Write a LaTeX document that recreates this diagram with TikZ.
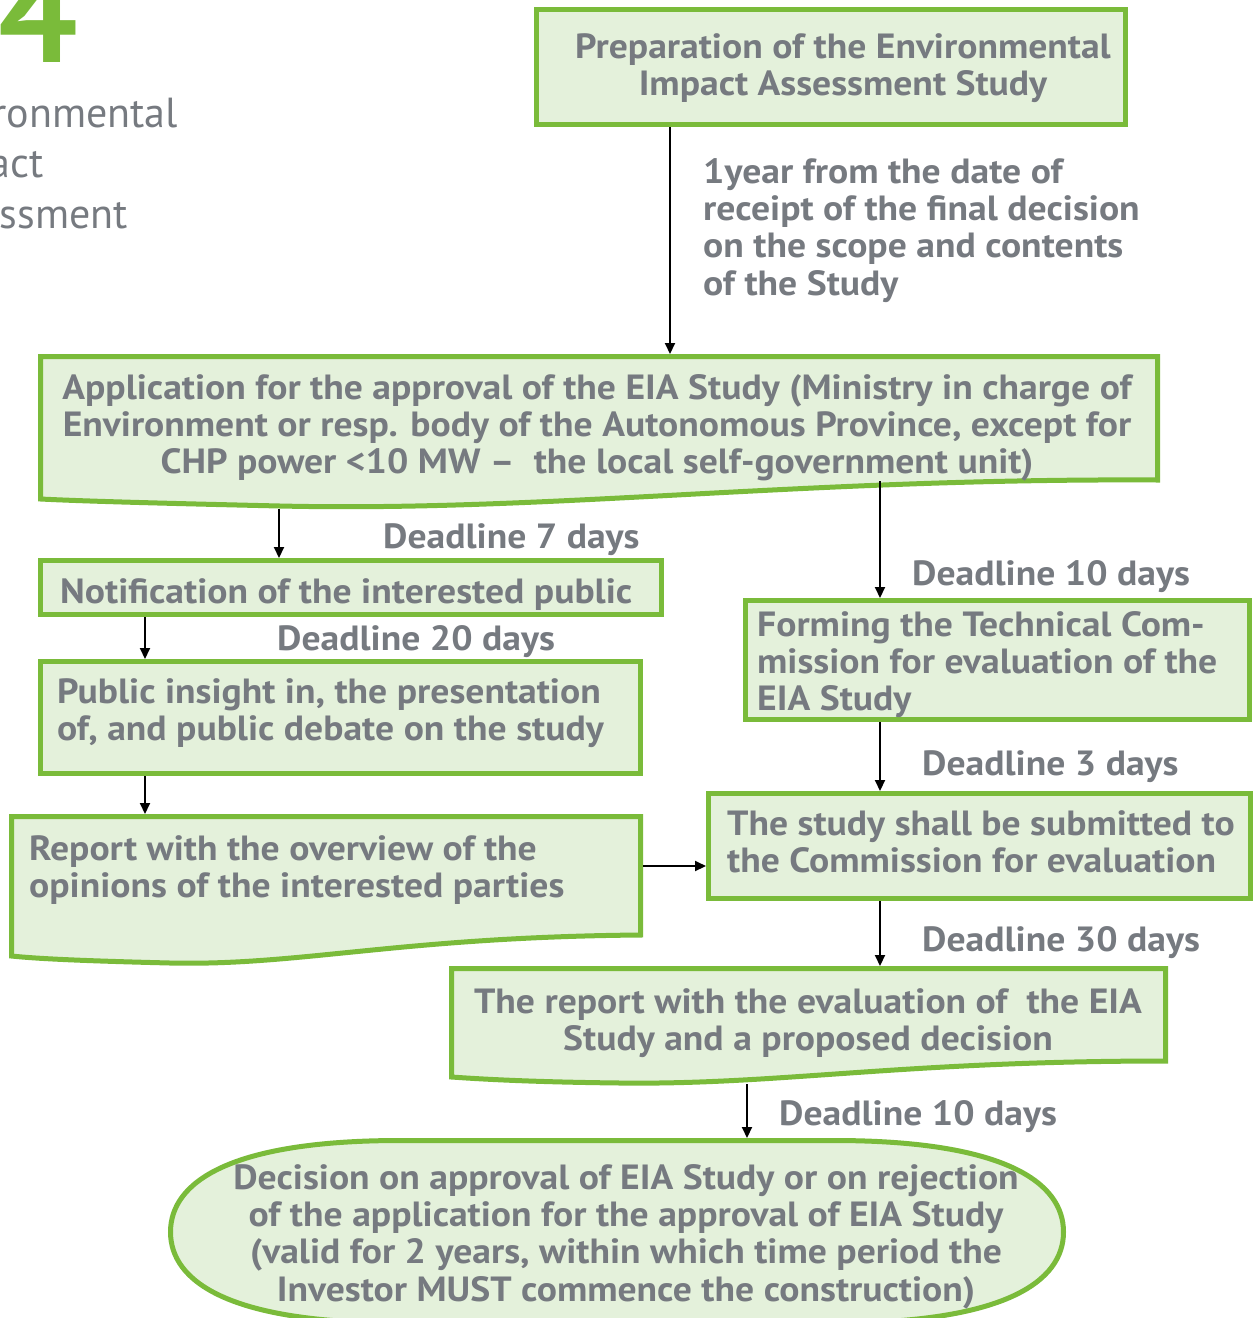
\documentclass[tikz,border=0pt]{standalone}
\usepackage{fontspec}
\setmainfont{PT Sans}
\newfontfamily\boxfam{PT Sans}[FakeStretch=1.075,Ligatures=TeX]
\usetikzlibrary{arrows.meta}
\definecolor{boxgreen}{RGB}{122,187,58}
\definecolor{boxfill}{RGB}{228,241,219}
\definecolor{txtgray}{RGB}{118,122,128}
\newcommand\boxfont{\boxfam\bfseries\fontsize{35}{37.3}\selectfont}
\newcommand\sidefont{\fontsize{42}{50}\selectfont}
\begin{document}
\begin{tikzpicture}[x=1pt,y=-1pt,
  box/.style={draw=boxgreen, fill=boxfill, line width=5pt, rectangle, inner sep=0, anchor=north west},
  doc/.style={draw=boxgreen, fill=boxfill, line width=5pt, line join=miter},
  area/.style={inner sep=0, outer sep=0, anchor=north west},
  txt/.style={inner sep=0, font=\boxfont, text=txtgray},
  side/.style={inner sep=0, font=\sidefont, text=txtgray, anchor=base east},
  arr/.style={line width=2pt, -{Triangle[length=11pt,width=10pt]}}]
\useasboundingbox (0,0) rectangle (1259,1318);
\clip (0,0) rectangle (1259,1318);

% chapter number and title
\node[inner sep=0, font=\bfseries\fontsize{140}{140}\selectfont, text=boxgreen, anchor=base east] (num) at (78,62) {4};
\node[side] (t1) at (178,127) {ronmental};
\node[side] (t2) at (44,177) {act};
\node[side] (t3) at (128,228) {ssment};

% boxes
\node[box, minimum width=589, minimum height=115] (prep) at (534,7) {};
\node[box, minimum width=621, minimum height=54] (notif) at (38,558) {};
\node[box, minimum width=600, minimum height=112] (public) at (38,659) {};
\node[box, minimum width=504, minimum height=119] (forming) at (743,598) {};
\node[box, minimum width=542, minimum height=105] (submit) at (706,791) {};

% document-shaped boxes
\draw[doc] (40.5,356.5) -- (1157.5,356.5) -- (1157.5,480)
  .. controls (800,478) and (550,512) .. (280,506)
  .. controls (150,503) and (80,501) .. (40.5,499) -- cycle;
\node[area, minimum width=1122, minimum height=127] (app) at (38,354) {};
\coordinate (appdip) at (279,509);

\draw[doc] (11.5,816.5) -- (640.5,816.5) -- (640.5,935)
  .. controls (400,937) and (300,966) .. (170,963)
  .. controls (90,961) and (40,959) .. (11.5,956) -- cycle;
\node[area, minimum width=634, minimum height=122] (report) at (9,814) {};

\draw[doc] (451.5,968.5) -- (1165.5,968.5) -- (1165.5,1061)
  .. controls (900,1061) and (780,1085) .. (620,1083)
  .. controls (530,1082) and (480,1079) .. (451.5,1077) -- cycle;
\node[area, minimum width=719, minimum height=96] (eval) at (449,966) {};
\coordinate (evaldip) at (747,1084);

% final decision (stadium-like outline, running past the lower edge)
\draw[doc] (400,1140.5) -- (834,1140.5)
  .. controls (1004,1140.5) and (1063.5,1182) .. (1063.5,1232)
  .. controls (1063.5,1282) and (1004,1323) .. (834,1323)
  -- (400,1323)
  .. controls (230,1323) and (170.5,1282) .. (170.5,1232)
  .. controls (170.5,1182) and (230,1140.5) .. (400,1140.5) -- cycle;
\node[area, minimum width=898, minimum height=188] (dec) at (168,1138) {};

% texts
\node[txt, align=center, anchor=north] (prepT) at (843,33) {Preparation of the Environmental\\Impact Assessment Study};
\node[txt, align=left, anchor=north west] (yearT) at (703,158) {1year from the date of\\receipt of the final decision\\on the scope and contents\\of the Study};
\node[txt, align=center, anchor=north] (appT) at (597,374) {Application for the approval of the EIA Study (Ministry in charge of\\Environment or resp. body of the Autonomous Province, except for\\CHP power {<}10 MW –\ \ the local self-government unit)};
\node[txt, anchor=base west] (d7) at (383,548) {Deadline 7 days};
\node[txt, anchor=base west] (notifT) at (60,603) {Notification of the interested public};
\node[txt, anchor=base west] (d20) at (277,650) {Deadline 20 days};
\node[txt, align=left, anchor=north west] (publicT) at (57,678) {Public insight in, the presentation\\of, and public debate on the study};
\node[txt, align=left, anchor=north west] (reportT) at (29,835) {Report with the overview of the\\opinions of the interested parties};
\node[txt, anchor=base west] (d10a) at (912,585) {Deadline 10 days};
\node[txt, align=left, anchor=north west] (formingT) at (757,611) {Forming the Technical Com-\\mission for evaluation of the\\EIA Study};
\node[txt, anchor=base west] (d3) at (922,775) {Deadline 3 days};
\node[txt, align=left, anchor=north west] (submitT) at (727,810) {The study shall be submitted to\\the Commission for evaluation};
\node[txt, anchor=base west] (d30) at (922,951) {Deadline 30 days};
\node[txt, align=center, anchor=north] (evalT) at (808,988) {The report with the evaluation of \ the EIA\\Study and a proposed decision};
\node[txt, anchor=base west] (d10b) at (779,1125) {Deadline 10 days};
\node[txt, align=center, anchor=north] (decT) at (626,1164) {Decision on approval of EIA Study or on rejection\\of the application for the approval of EIA Study\\(valid for 2 years, within which time period the\\Investor MUST commence the construction)};

% connectors
\coordinate (xA) at (670,0);
\coordinate (xC) at (145,0);
\coordinate (xD) at (880,0);
\coordinate (xE) at (747,0);
\coordinate (xB) at (279,0);
\coordinate (yR) at (0,866);
\draw[arr] (prep.south -| xA) -- (app.north -| xA);
\draw[arr] (appdip) -- (notif.north -| xB);
\draw[arr] (notif.south -| xC) -- (public.north -| xC);
\draw[arr] (public.south -| xC) -- (report.north -| xC);
\draw[arr] (report.east |- yR) -- (submit.west |- yR);
\draw[arr] (app.south -| xD) -- (forming.north -| xD);
\draw[arr] (forming.south -| xD) -- (submit.north -| xD);
\draw[arr] (submit.south -| xD) -- (eval.north -| xD);
\draw[arr] (evaldip) -- (dec.north -| xE);
\end{tikzpicture}
\end{document}
